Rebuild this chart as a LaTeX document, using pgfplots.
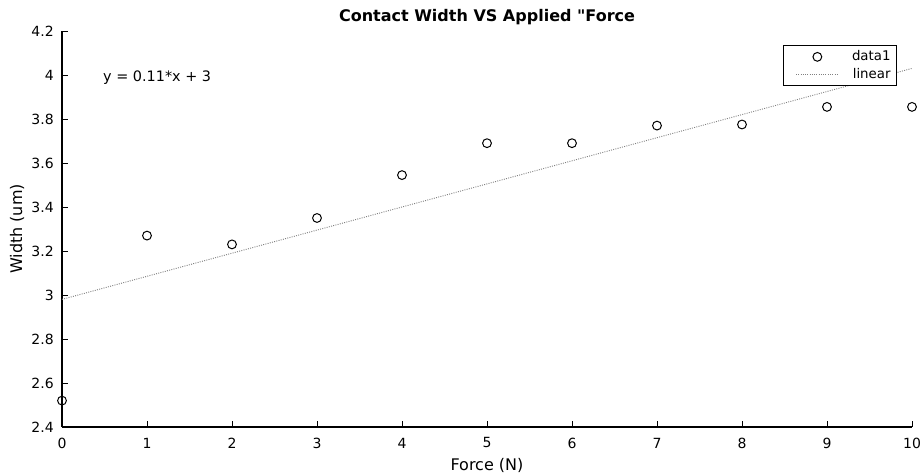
\documentclass[border=0pt]{standalone}
\usepackage{fontspec}
\setmainfont{DejaVu Sans}
\usepackage{pgfplots}
\pgfplotsset{compat=1.18}
\pgfplotsset{
  markleg/.style={legend image code/.code={\path[draw=none,fill=none] (-7pt,0pt) -- (38pt,0pt);\draw[##1] plot[only marks] coordinates {(16pt,0pt)};}},
  lineleg/.style={legend image code/.code={\path[draw=none,fill=none] (-7pt,0pt) -- (38pt,0pt);\draw[##1] (0pt,0pt) -- (32pt,0pt);}},
}
\begin{document}
\begin{tikzpicture}
\begin{axis}[
  at={(0,0)}, anchor=south west,
  scale only axis,
  width=637.5pt, height=297pt,
  xmin=0, xmax=10, ymin=2.4, ymax=4.2,
  xtick={0,1,2,3,4,5,6,7,8,9,10},
  ytick={2.4,2.6,2.8,3,3.2,3.4,3.6,3.8,4,4.2},
  yticklabels={2.4,2.6,2.8,3,3.2,3.4,3.6,3.8,4,4.2},
  axis x line*=bottom, axis y line*=left,
  axis line style={-, line width=0.9pt},
  tick align=inside, major tick length=4.5pt,
  tick style={line width=0.7pt, black},
  /pgf/number format/assume math mode=true,
  tick label style={font=\fontsize{10.5}{12}\selectfont},
  xticklabel style={anchor=center, inner sep=0pt, yshift=-12pt},
  yticklabel style={anchor=east, inner sep=0pt, xshift=-6pt},
  xlabel={Force (N)}, ylabel={Width (um)},
  label style={font=\fontsize{12}{14}\selectfont, inner sep=0pt},
  xlabel style={at={(axis description cs:0.5,0)}, anchor=center, yshift=-28.5pt},
  ylabel style={at={(axis description cs:-0.0529,0.5)}, anchor=center},
  title={Contact Width VS Applied \textquotedbl Force},
  title style={font=\bfseries\fontsize{12}{14}\selectfont, inner sep=0pt, at={(axis description cs:0.5,1)}, anchor=center, yshift=4.5pt},
  legend style={at={(axis description cs:1,1)}, anchor=north east, xshift=-11.25pt, yshift=-10.5pt,
    draw=black, line width=0.7pt, fill=white, font=\fontsize{10}{12}\selectfont,
    inner xsep=2.5pt, inner ysep=2pt, row sep=0pt, column sep=2pt},
  legend cell align=right,
  clip=false,
]
\addplot[only marks, mark=o, mark size=3.3pt, black, line width=0.75pt, markleg] coordinates {
  (0,2.52) (1,3.27) (2,3.23) (3,3.35) (4,3.545) (5,3.69) (6,3.69) (7,3.77) (8,3.775) (9,3.855) (10,3.855)
};
\addlegendentry{data1}
\addplot[densely dotted, gray, line width=0.7pt, lineleg] coordinates {(0,2.98) (10,4.03)};
\addlegendentry{linear}
\node[anchor=west, inner sep=0pt, font=\fontsize{10.8}{12}\selectfont] at (rel axis cs:0.0482,0.881) {y = 0.11*x + 3};
\end{axis}
\path (-46.5pt,-35.25pt) rectangle (645pt,320.25pt);
\end{tikzpicture}
\end{document}
